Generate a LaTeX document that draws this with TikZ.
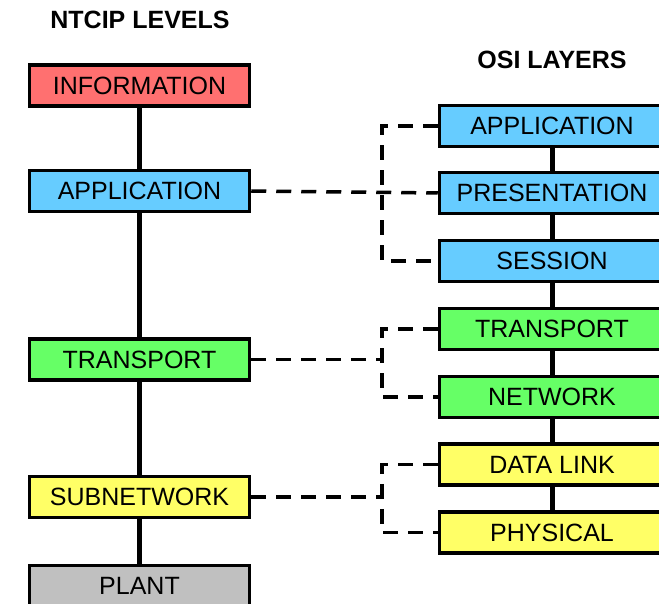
\documentclass[tikz,border=0pt]{standalone}
\usepackage{fontspec}
\setmainfont{Liberation Sans}
\begin{document}
\begin{tikzpicture}[x=1pt,y=-1pt,
  layerbox/.style={draw=black,line width=3.5pt,minimum height=41pt,inner sep=0pt,
    font=\fontsize{25}{25}\selectfont},
  ntcipbox/.style={layerbox,minimum width=220pt},
  osibox/.style={layerbox,minimum width=225pt},
  heading/.style={font=\fontsize{25}{25}\selectfont\bfseries},
  stack/.style={line width=5pt},
  link/.style={line width=3.5pt,dash pattern=on 15pt off 10pt}]
\definecolor{infored}{HTML}{FF7070}
\definecolor{appblue}{HTML}{66CCFF}
\definecolor{trgreen}{HTML}{66FF66}
\definecolor{subyellow}{HTML}{FFFF66}
\definecolor{plantgray}{HTML}{C0C0C0}
\useasboundingbox (0,0) rectangle (659,604);

% headings
\node[heading] (ntciphead) at (140,20) {NTCIP LEVELS};
\node[heading] (osihead) at (552,60) {OSI LAYERS};

% NTCIP levels
\node[ntcipbox,fill=infored] (info) at (139.5,85.5) {INFORMATION};
\node[ntcipbox,fill=appblue] (napp) at (139.5,191) {APPLICATION};
\node[ntcipbox,fill=trgreen] (ntr) at (139.5,359.5) {TRANSPORT};
\node[ntcipbox,fill=subyellow] (nsub) at (139.5,497) {SUBNETWORK};
\node[ntcipbox,fill=plantgray] (plant) at (139.5,586) {PLANT};

% OSI layers
\node[osibox,fill=appblue] (oapp) at (552,126) {APPLICATION};
\node[osibox,fill=appblue] (opres) at (552,193) {PRESENTATION};
\node[osibox,fill=appblue] (osess) at (552,261) {SESSION};
\node[osibox,fill=trgreen] (otr) at (552,329) {TRANSPORT};
\node[osibox,fill=trgreen] (onet) at (552,397) {NETWORK};
\node[osibox,fill=subyellow] (odl) at (552,464.5) {DATA LINK};
\node[osibox,fill=subyellow] (ophy) at (552,532.5) {PHYSICAL};

% stacks
\draw[stack] (info.south) -- (napp.north);
\draw[stack] (napp.south) -- (ntr.north);
\draw[stack] (ntr.south) -- (nsub.north);
\draw[stack] (nsub.south) -- (plant.north);
\draw[stack] (oapp.south) -- (opres.north);
\draw[stack] (opres.south) -- (osess.north);
\draw[stack] (osess.south) -- (otr.north);
\draw[stack] (otr.south) -- (onet.north);
\draw[stack] (onet.south) -- (odl.north);
\draw[stack] (odl.south) -- (ophy.north);

% brackets joining each NTCIP level to its OSI layers
\coordinate (b1) at (382,0);
\draw[link] (napp.east) -- (opres.west);
\draw[link] (oapp.west) -| (b1 |- osess.west) -- (osess.west);

\draw[link] (ntr.east) -- (b1 |- ntr.east);
\draw[link] (otr.west) -| (b1 |- onet.west) -- (onet.west);

\draw[link] (nsub.east) -- (b1 |- nsub.east);
\draw[link] (odl.west) -| (b1 |- ophy.west) -- (ophy.west);
\end{tikzpicture}
\end{document}
